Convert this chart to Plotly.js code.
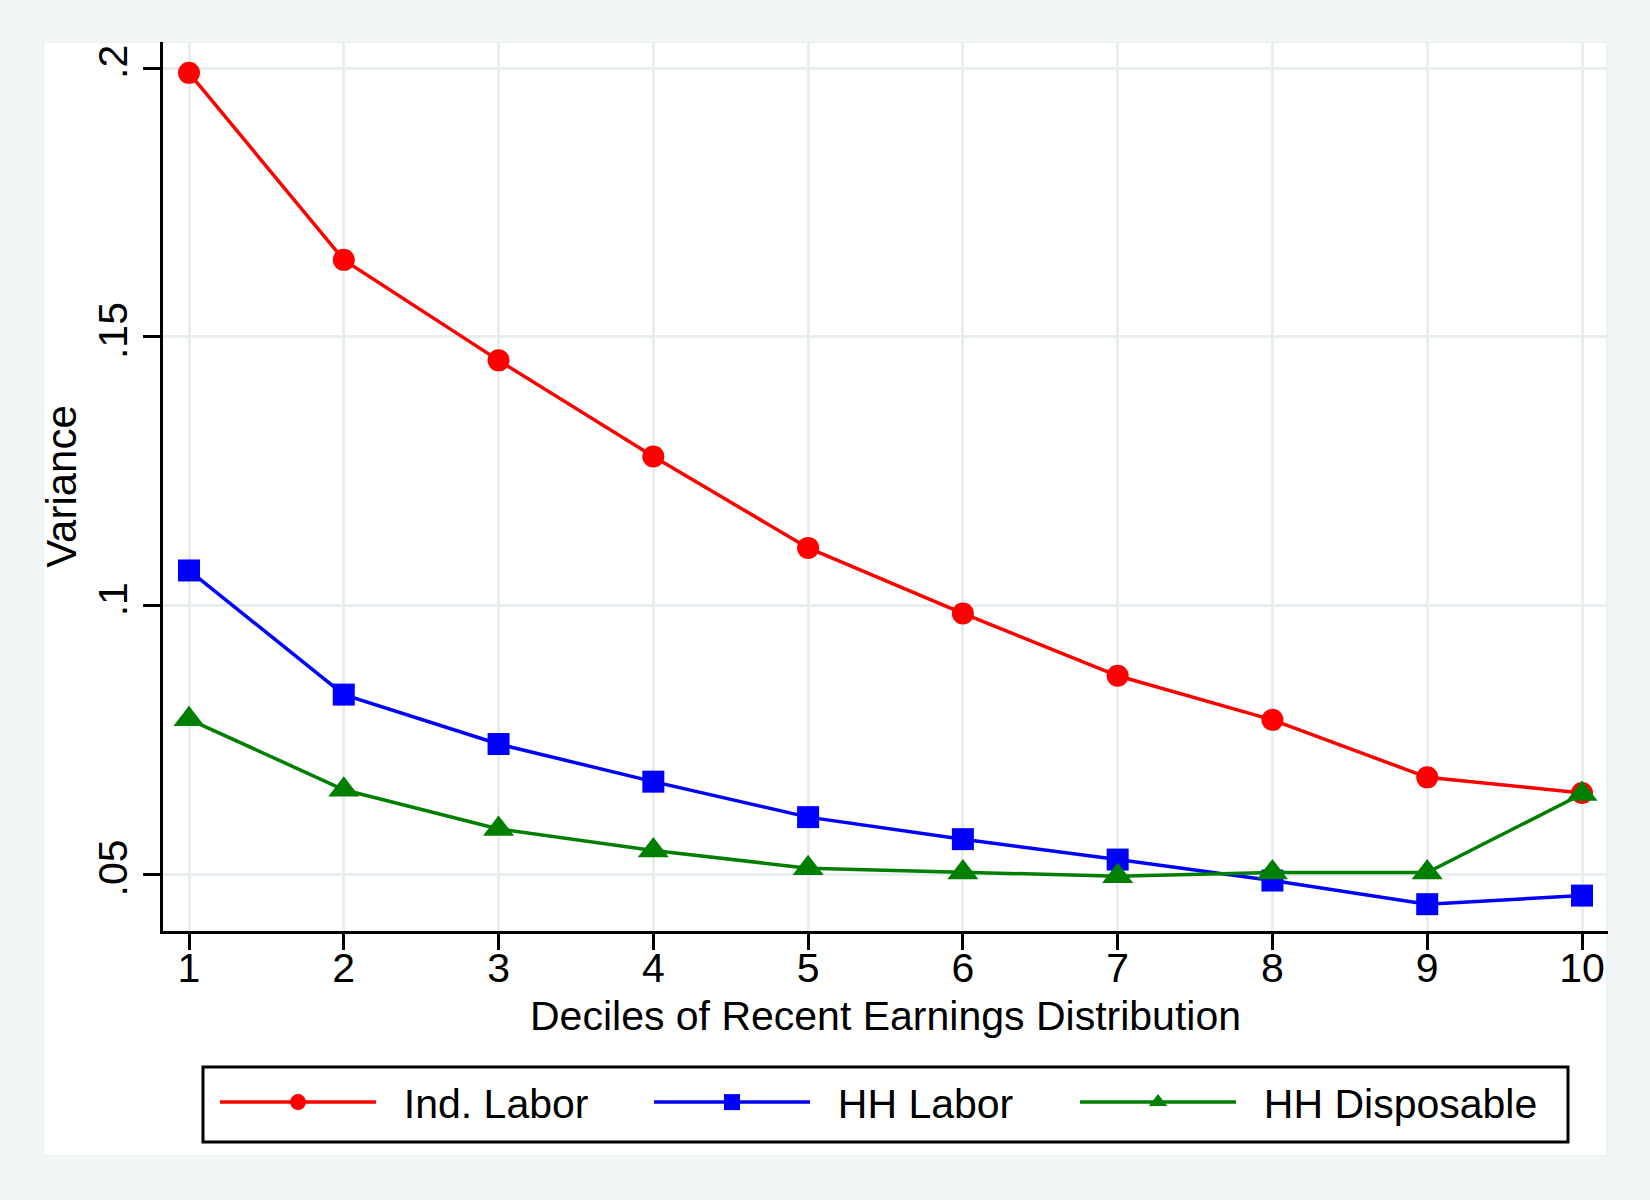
<!DOCTYPE html>
<html>
<head>
<meta charset="utf-8">
<script src="https://cdn.plot.ly/plotly-3.0.1.min.js"></script>
<style>
  html, body { margin: 0; padding: 0; background: #f2f6f7; }
  #chart { width: 1650px; height: 1200px; }
</style>
</head>
<body>
<div id="chart"></div>
<script>
// ---- data ----
const deciles = [1, 2, 3, 4, 5, 6, 7, 8, 9, 10];
const indLabor = [0.1991, 0.1643, 0.1456, 0.1277, 0.1107, 0.0985, 0.0869, 0.0787, 0.0680, 0.0651];
const hhLabor = [0.1065, 0.0834, 0.0742, 0.0672, 0.0606, 0.0565, 0.0527, 0.0488, 0.0444, 0.0460];
const hhDisposable = [0.0788, 0.0657, 0.0584, 0.0544, 0.0511, 0.0503, 0.0496, 0.0503, 0.0503, 0.0649];
const seriesNames = ["Ind. Labor", "HH Labor", "HH Disposable"];
const yTickVals = [0.05, 0.1, 0.15, 0.2];
const yTickText = [".05", ".1", ".15", ".2"];
const xTitle = "Deciles of Recent Earnings Distribution";
const yTitle = "Variance";

const FONT = "Liberation Sans, Arial, Helvetica, sans-serif";
const NB = "\u00a0\u00a0";

const traces = [
  { x: deciles, y: indLabor, name: NB + seriesNames[0], type: "scatter", mode: "lines+markers",
    line: { color: "#ff0000", width: 3.5 }, marker: { symbol: "circle", size: 22, color: "#ff0000" },
    legendwidth: 263 },
  { x: deciles, y: hhLabor, name: NB + seriesNames[1], type: "scatter", mode: "lines+markers",
    line: { color: "#0000ff", width: 3.5 }, marker: { symbol: "square", size: 22, color: "#0000ff" },
    legendwidth: 255 },
  { x: deciles, y: hhDisposable, name: NB + seriesNames[2], type: "scatter", mode: "lines+markers",
    line: { color: "#007f00", width: 3.5 }, marker: { symbol: "triangle-up", size: 27, color: "#007f00" },
    legendwidth: 310 }
];

const gridColor = "#e6eef0";

const layout = {
  width: 1650, height: 1200,
  paper_bgcolor: "#f2f6f7",
  plot_bgcolor: "#ffffff",
  margin: { l: 163, r: 42, t: 42, b: 269, pad: 0 },
  font: { family: FONT, color: "#000000", size: 41 },
  showlegend: true,
  legend: {
    orientation: "h", x: 0.036, xanchor: "left", y: -0.1552, yanchor: "top",
    bgcolor: "rgba(0,0,0,0)", borderwidth: 0,
    font: { family: FONT, size: 41, color: "#000" },
    itemwidth: 156, traceorder: "normal"
  },
  xaxis: {
    range: [0.832, 10.168], tickvals: deciles, ticktext: deciles.map(String),
    showline: true, linecolor: "#000", linewidth: 3, mirror: false,
    ticks: "outside", ticklen: 16, tickwidth: 3, tickcolor: "#000",
    ticklabelstandoff: -17,
    showgrid: true, gridcolor: gridColor, gridwidth: 3, zeroline: false,
    tickfont: { family: FONT, size: 41, color: "#000" },
    title: { text: xTitle, font: { family: FONT, size: 41, color: "#000" }, standoff: 12 },
    automargin: false, fixedrange: true
  },
  yaxis: {
    range: [0.03941, 0.20484], tickvals: yTickVals, ticktext: yTickText, tickangle: -90,
    showline: true, linecolor: "#000", linewidth: 3, mirror: false,
    ticks: "outside", ticklen: 17, tickwidth: 3, tickcolor: "#000",
    showgrid: true, gridcolor: gridColor, gridwidth: 3, zeroline: false,
    tickfont: { family: FONT, size: 41, color: "#000" },
    title: { text: yTitle, font: { family: FONT, size: 42, color: "#000" }, standoff: 0 },
    automargin: false, fixedrange: true
  },
  shapes: [
    { type: "rect", xref: "paper", yref: "paper", layer: "below",
      x0: (43 - 163) / 1445, x1: (1607 - 163) / 1445, y0: (931 - 1156) / 889, y1: 1,
      fillcolor: "#ffffff", line: { color: "#edf2f4", width: 2 } },
    { type: "rect", xref: "paper", yref: "paper", layer: "above",
      x0: (203 - 163) / 1445, x1: (1568 - 163) / 1445, y0: (931 - 1142) / 889, y1: (931 - 1067) / 889,
      fillcolor: "rgba(0,0,0,0)", line: { color: "#000", width: 3 } }
  ]
};

Plotly.newPlot("chart", traces, layout, { displayModeBar: false, staticPlot: true });
</script>
</body>
</html>
